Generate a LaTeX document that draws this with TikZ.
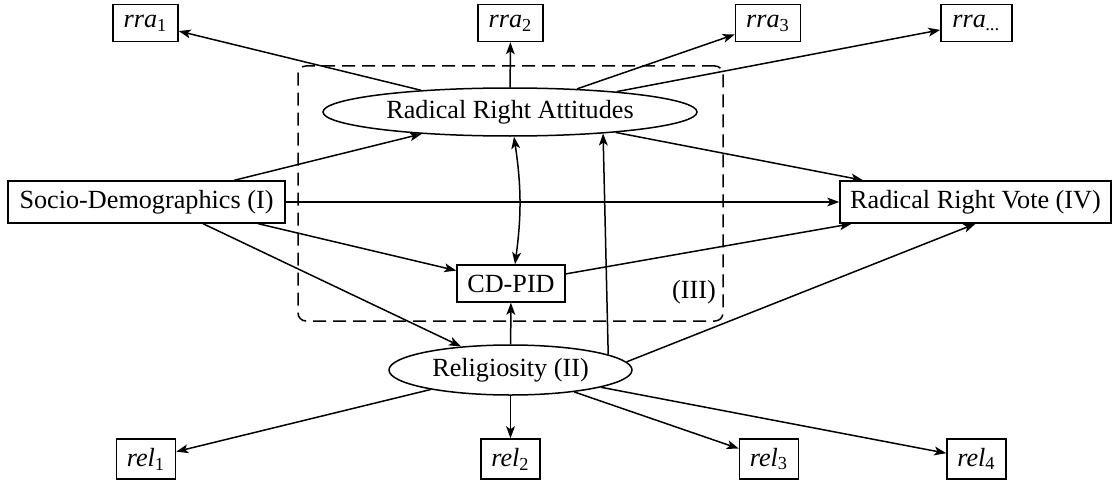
\documentclass[tikz,border=0pt]{standalone}
\usepackage{fontspec}
\setmainfont{Liberation Serif}
\usetikzlibrary{shapes.geometric,arrows.meta}
\begin{document}
\begin{tikzpicture}[x=0.5pt,y=-0.5pt,
  font=\fontsize{13.1}{15.7}\selectfont,
  line width=0.75pt,
  >={Stealth[length=6pt,width=4.4pt,inset=1.5pt]},
  box/.style={draw,rectangle,inner sep=2pt,fill=white},
  ell/.style={draw,ellipse,inner sep=0pt,fill=white},
  ind/.style={box,minimum height=18.5pt},
  arr/.style={->}
]
\useasboundingbox (0,0) rectangle (1112,481);
% group box
\node[draw,dash pattern=on 6.5pt off 3.5pt,rounded corners=4pt,minimum width=212.5pt,minimum height=127.5pt,inner sep=0pt] (grp) at (510.5,193.5) {};
\node (g3) at (694,292) {(III)};
% nodes
\node[box,minimum width=138.5pt,minimum height=21pt] (socio) at (146.5,202) {Socio-Demographics (I)};
\node[box,minimum width=135.5pt,minimum height=21pt] (rrv) at (975.5,202) {Radical Right Vote (IV)};
\node[ell,minimum width=187pt,minimum height=24pt] (rra) at (510,112) {Radical Right Attitudes};
\node[ell,minimum width=121.5pt,minimum height=25pt] (rel) at (510.5,370) {Religiosity (II)};
\node[box,minimum width=54pt,minimum height=18.5pt] (cd) at (511,283.5) {CD-PID};
\node[ind,minimum width=32.5pt] (a1) at (145.5,23) {\textit{rra}\textsubscript{1}};
\node[ind,minimum width=32.5pt] (a2) at (510.5,23) {\textit{rra}\textsubscript{2}};
\node[ind,minimum width=32.5pt] (a3) at (768,23) {\textit{rra}\textsubscript{3}};
\node[ind,minimum width=35.5pt] (a4) at (976.5,23) {\textit{rra}\textsubscript{\textit{...}}};
\node[ind,minimum width=29.5pt,minimum height=20pt] (r1) at (146,459) {\textit{rel}\textsubscript{1}};
\node[ind,minimum width=29.5pt,minimum height=20pt] (r2) at (510.5,459) {\textit{rel}\textsubscript{2}};
\node[ind,minimum width=29.5pt,minimum height=20pt] (r3) at (769,459) {\textit{rel}\textsubscript{3}};
\node[ind,minimum width=29.5pt,minimum height=20pt] (r4) at (976.5,459) {\textit{rel}\textsubscript{4}};
% connectors
\draw[arr] (rra) -- (a1);
\draw[arr] (rra) -- (a2);
\draw[arr] (rra) -- (a3);
\draw[arr] (rra) -- (a4);
\draw[arr] (rel) -- (r1);
\draw[arr] (rel) -- (r2);
\draw[arr] (rel) -- (r3);
\draw[arr] (rel) -- (r4);
\draw[arr] (socio) -- (rra);
\draw[arr] (socio) -- (rrv);
\draw[arr] (socio.-11) -- (cd);
\draw[arr] (socio.-21) -- (rel);
\draw[arr] (rra) -- (rrv);
\draw[arr] (cd) -- (rrv);
\draw[arr] (rel.4) -- (rrv.south);
\draw[arr] (rel) -- (cd);
\draw[arr] (rel.9) -- (rra.-13);
\draw[<->] ([xshift=2pt]rra.south) to[bend left=8] ([xshift=2pt]cd.north);
\end{tikzpicture}
\end{document}
